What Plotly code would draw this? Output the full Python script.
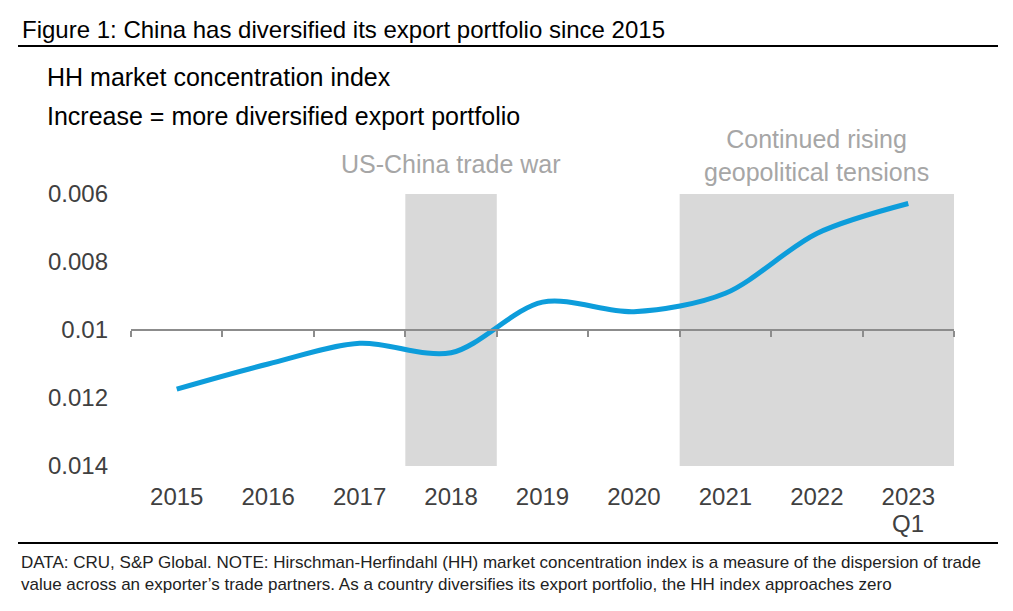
import plotly.graph_objects as go

# HH index readings (lower = more diversified, axis is reversed)
years = ["2015", "2016", "2017", "2018", "2019", "2020", "2021", "2022", "2023"]
hh_index = [0.01174, 0.01100, 0.01039, 0.01067, 0.00918, 0.00946, 0.00892, 0.00716, 0.00628]

# shaded periods (category index ranges) and their labels
shade_start = [2.5, 5.5]
shade_end = [3.5, 8.5]
shade_labels = ["US-China trade war", "Continued rising<br>geopolitical tensions"]

y_ticks = [0.006, 0.008, 0.01, 0.012, 0.014]
y_ticktext = ["0.006", "0.008", "0.01", "0.012", "0.014"]

title_txt = "Figure 1: China has diversified its export portfolio since 2015"
sub1 = "HH market concentration index"
sub2 = "Increase = more diversified export portfolio"
note_txt = ("DATA: CRU, S&P Global. NOTE: Hirschman-Herfindahl (HH) market concentration index is a measure of the dispersion of trade<br>"
            "value across an exporter\u2019s trade partners. As a country diversifies its export portfolio, the HH index approaches zero")

# page puts the plot 8px in from the corner, so work in window pixels minus 8
OFF = 8
W, H = 1013 - OFF, 611 - OFF
L, R, T, B = 131 - OFF, 59, 194 - OFF, 145
pw, ph = W - L - R, H - T - B

def px_x(x):
    return (x - OFF - L) / pw

def px_y(y):
    return (H - B - (y - OFF)) / ph

fig = go.Figure()
fig.add_trace(go.Scatter(
    x=list(range(len(years))), y=hh_index, mode="lines",
    line=dict(color="#0d9ddb", width=5, shape="spline", smoothing=0.9),
    showlegend=False, hoverinfo="skip"))

for s, e, lab in zip(shade_start, shade_end, shade_labels):
    fig.add_shape(type="rect", xref="x", yref="y", x0=s, x1=e, y0=y_ticks[0], y1=y_ticks[-1],
                  fillcolor="#d9d9d9", line_width=0, layer="below")
    fig.add_annotation(x=(s + e) / 2, y=y_ticks[0], xref="x", yref="y", text=lab,
                       showarrow=False, yanchor="bottom", yshift=6 if "<br>" in lab else 14,
                       font=dict(size=25, color="#a6a6a6"))

fig.add_annotation(x=len(years) - 1, y=y_ticks[-1], xref="x", yref="y", text="Q1",
                   showarrow=False, yanchor="middle", yshift=-57,
                   font=dict(size=24, color="#404040"))

fig.add_annotation(x=px_x(20), y=px_y(30), xref="paper", yref="paper", text=title_txt,
                   showarrow=False, xanchor="left", yanchor="middle", font=dict(size=24, color="black"))
fig.add_annotation(x=px_x(45), y=px_y(77), xref="paper", yref="paper", text=sub1,
                   showarrow=False, xanchor="left", yanchor="middle", font=dict(size=25, color="black"))
fig.add_annotation(x=px_x(45), y=px_y(116), xref="paper", yref="paper", text=sub2,
                   showarrow=False, xanchor="left", yanchor="middle", font=dict(size=25, color="black"))
fig.add_annotation(x=px_x(19), y=px_y(573), xref="paper", yref="paper", text=note_txt,
                   showarrow=False, xanchor="left", yanchor="middle", align="left",
                   font=dict(size=17, color="#222222"))
fig.add_shape(type="line", xref="paper", yref="paper", x0=px_x(18), x1=px_x(998), y0=px_y(46), y1=px_y(46),
              line=dict(color="black", width=2))
fig.add_shape(type="line", xref="paper", yref="paper", x0=px_x(18), x1=px_x(998), y0=px_y(543), y1=px_y(543),
              line=dict(color="black", width=2))

fig.update_layout(
    width=W, height=H,
    margin=dict(l=L, r=R, t=T, b=B),
    paper_bgcolor="white", plot_bgcolor="white",
    font=dict(family="Liberation Sans, Arial, sans-serif", color="#404040"),
    xaxis=dict(range=[-0.5, len(years) - 0.5], tickvals=list(range(len(years))), ticktext=years,
               showgrid=False, zeroline=False, showline=False, ticks="",
               tickfont=dict(size=24, color="#404040"), ticklabelstandoff=14),
    xaxis2=dict(overlaying="x", anchor="free", position=0.5, range=[-0.5, len(years) - 0.5],
                tickvals=[i - 0.5 for i in range(len(years) + 1)], showticklabels=False,
                ticks="outside", ticklen=6, tickcolor="#8c8c8c", tickwidth=1.5,
                showline=True, linecolor="#8c8c8c", linewidth=1.5, showgrid=False, zeroline=False,
                side="bottom"),
    yaxis=dict(range=[y_ticks[-1], y_ticks[0]], tickvals=y_ticks, ticktext=y_ticktext,
               showgrid=False, zeroline=False, showline=False, ticks="",
               tickfont=dict(size=24, color="#404040"), ticklabelstandoff=22),
)
# empty trace so the free axis at 0.01 gets drawn
fig.add_trace(go.Scatter(x=[None], y=[None], xaxis="x2", showlegend=False, hoverinfo="skip"))

fig.write_html("out.html")
